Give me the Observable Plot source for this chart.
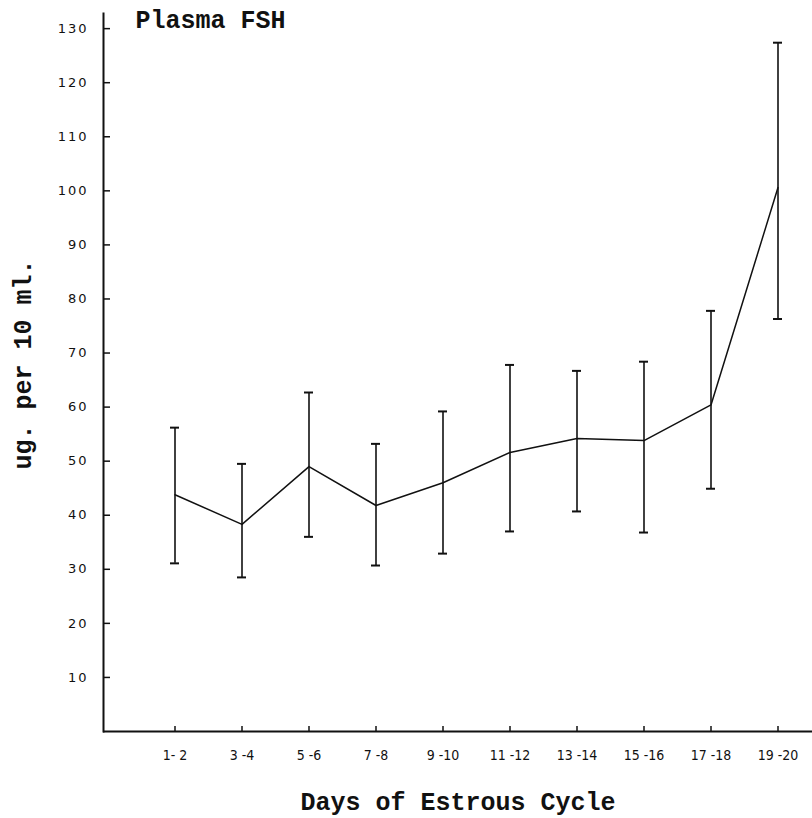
<!DOCTYPE html>
<html>
<head>
<meta charset="utf-8">
<script src="https://cdn.jsdelivr.net/npm/d3@7"></script>
<script src="https://cdn.jsdelivr.net/npm/@observablehq/plot@0.6"></script>
<style>
  html, body { margin: 0; padding: 0; background: #fff; }
  #chart svg { display: block; }
  #chart [aria-label="y-axis tick label"] text { letter-spacing: 2px; }
</style>
</head>
<body>
<div id="chart"></div>
<script>
// ---- data ----
const days = ["1-2", "3-4", "5-6", "7-8", "9-10", "11-12", "13-14", "15-16", "17-18", "19-20"];
const dayLabels = ["1- 2", "3 -4", "5 -6", "7 -8", "9 -10", "11 -12", "13 -14", "15 -16", "17 -18", "19 -20"];
const fshMean  = [43.8, 38.3, 49.0, 41.8, 46.0, 51.6, 54.2, 53.8, 60.4, 100.6];
const fshUpper = [56.2, 49.5, 62.7, 53.2, 59.2, 67.8, 66.7, 68.4, 77.8, 127.4];
const fshLower = [31.1, 28.5, 36.0, 30.7, 32.9, 37.0, 40.7, 36.8, 44.9, 76.3];
const yTicks = [10, 20, 30, 40, 50, 60, 70, 80, 90, 100, 110, 120, 130];
const titleText = "Plasma FSH";
const xLabelText = "Days of Estrous Cycle";
const yLabelText = "ug. per 10 ml.";

// ---- table ----
const rows = days.map((d, i) => ({day: d, mean: fshMean[i], hi: fshUpper[i], lo: fshLower[i]}));

const W = 812, H = 818, ML = 103, MR = 0, MT = 13, MB = 87;
const typeFont = "'Liberation Mono', 'DejaVu Sans Mono', monospace";
const capInset = 29;
const yTickLen = 7, xTickLen = 5;

const chart = Plot.plot({
  width: W,
  height: H,
  marginLeft: ML,
  marginRight: MR,
  marginTop: MT,
  marginBottom: MB,
  style: {background: "#fff", color: "#111"},
  x: {type: "band", domain: days, range: [137.1, 814.9], padding: 0},
  y: {domain: [0, 132.8]},
  marks: [
    // axis lines
    Plot.ruleY([0], {strokeWidth: 2}),
    Plot.frame({anchor: "left", strokeWidth: 2}),
    // inward tick marks
    Plot.ruleY(yTicks, {y: d => d, insetRight: W - ML - MR - yTickLen, strokeWidth: 1.5}),
    Plot.ruleX(days, {x: d => d, y1: () => 0, y2: () => 0, insetBottom: xTickLen, strokeWidth: 1.5}),
    // tick labels
    Plot.axisY({ticks: yTicks, tickSize: 0, tickPadding: 15, label: null,
      fontSize: 13, fontFamily: "'DejaVu Sans', sans-serif"}),
    Plot.axisX({tickSize: 0, tickPadding: 19, label: null,
      tickFormat: (d) => dayLabels[days.indexOf(d)],
      fontSize: 14, fontFamily: "'DejaVu Sans Condensed', 'Liberation Sans Narrow', 'DejaVu Sans', sans-serif"}),
    // error bars
    Plot.ruleX(rows, {x: "day", y1: "lo", y2: "hi", strokeWidth: 1.6}),
    Plot.tickY(rows, {x: "day", y: "hi", insetLeft: capInset, insetRight: capInset, strokeWidth: 2}),
    Plot.tickY(rows, {x: "day", y: "lo", insetLeft: capInset, insetRight: capInset, strokeWidth: 2}),
    // mean line
    Plot.line(rows, {x: "day", y: "mean", strokeWidth: 1.5}),
    // texts
    Plot.text([titleText], {text: d => d, frameAnchor: "top-left", dx: 32, dy: -3,
      textAnchor: "start", lineAnchor: "top", fontSize: 25, fontWeight: "bold", fontFamily: typeFont}),
    Plot.text([xLabelText], {text: d => d, frameAnchor: "bottom", dy: 70,
      lineAnchor: "middle", fontSize: 25, fontWeight: "bold", fontFamily: typeFont}),
    Plot.text([yLabelText], {text: d => d, frameAnchor: "left", dx: -81, dy: -8, rotate: -90,
      textAnchor: "middle", lineAnchor: "middle", fontSize: 25, fontWeight: "bold", fontFamily: typeFont})
  ]
});

document.getElementById("chart").appendChild(chart);
</script>
</body>
</html>
